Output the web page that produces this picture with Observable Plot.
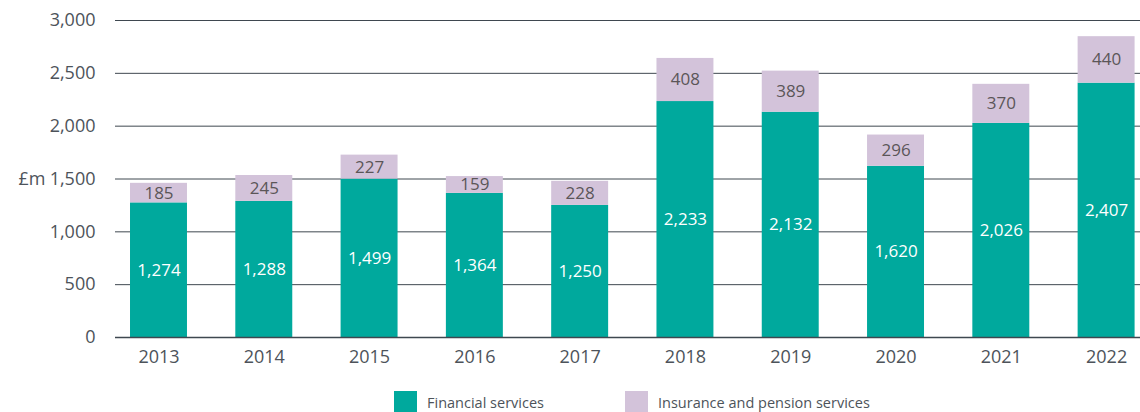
<!DOCTYPE html>
<html>
<head>
<meta charset="utf-8">
<script src="https://cdn.jsdelivr.net/npm/d3@7"></script>
<script src="https://cdn.jsdelivr.net/npm/@observablehq/plot@0.6"></script>
<style>
  body { margin: 0; background: #fff; font-family: "Open Sans", sans-serif; }
  #chart svg { display: block; }
  .legend { display: flex; align-items: center; padding-left: 394px; margin-top: 13px; height: 22px; color: #4d535a; font-size: 14.5px; }
  .legend .item { display: flex; align-items: center; }
  .legend .item:first-child { width: 231px; }
  .legend .sw { width: 23px; height: 22px; margin-right: 10px; flex: none; }
</style>
</head>
<body>
<div id="chart"></div>
<div class="legend" id="legend"></div>
<script>
const years = ["2013","2014","2015","2016","2017","2018","2019","2020","2021","2022"];
const financial = [1274,1288,1499,1364,1250,2233,2132,1620,2026,2407];
const insurance = [185,245,227,159,228,408,389,296,370,440];
const seriesNames = ["Financial services", "Insurance and pension services"];
const colors = ["#00a99d", "#d3c3da"];
const labelColors = ["#ffffff", "#5b5658"];
const yTicks = [0, 500, 1000, 1500, 2000, 2500, 3000];
const unitLabel = "£m";
const unitLevel = 1500;

const data = [];
years.forEach((y, i) => data.push({year: y, series: seriesNames[0], value: financial[i]}));
years.forEach((y, i) => data.push({year: y, series: seriesNames[1], value: insurance[i]}));

const font = "Open Sans, sans-serif";

const plot = Plot.plot({
  width: 1140,
  height: 378,
  marginLeft: 115,
  marginRight: 0,
  marginTop: 20,
  marginBottom: 41,
  style: {fontFamily: font, fontSize: "18px", color: "#4d535a", background: "#fff"},
  x: {domain: years, paddingInner: 0.459, paddingOuter: 0.097, align: 0.735, round: false, label: null},
  y: {domain: [0, 3000], label: null},
  color: {domain: seriesNames, range: colors},
  marks: [
    Plot.gridY(yTicks, {stroke: "#3f4850", strokeOpacity: 1, strokeWidth: 1}),
    Plot.axisY(yTicks, {tickSize: 0, tickPadding: 20, tickFormat: d3.format(","), fontSize: 18, fill: "#4d535a"}),
    Plot.axisX({tickSize: 0, tickPadding: 13, fontSize: 18, fill: "#4d535a"}),
    Plot.barY(data, {x: "year", y: "value", fill: "series", order: seriesNames}),
    Plot.ruleY([0], {stroke: "#3f4850", strokeWidth: 1.5}),
    Plot.text(data, Plot.stackY({
      x: "year", y: "value", z: "series", order: seriesNames,
      text: d => d3.format(",")(d.value),
      fill: d => labelColors[seriesNames.indexOf(d.series)],
      fontSize: 17
    })),
    Plot.text([unitLabel], {frameAnchor: "left", y: () => unitLevel, text: d => d, textAnchor: "start", dx: -97, fontSize: 18, fill: "#4d535a"})
  ]
});
document.getElementById("chart").appendChild(plot);

const legend = document.getElementById("legend");
seriesNames.forEach((name, i) => {
  const item = document.createElement("div");
  item.className = "item";
  const sw = document.createElement("span");
  sw.className = "sw";
  sw.style.background = colors[i];
  const t = document.createElement("span");
  t.textContent = name;
  item.appendChild(sw);
  item.appendChild(t);
  legend.appendChild(item);
});
</script>
</body>
</html>
